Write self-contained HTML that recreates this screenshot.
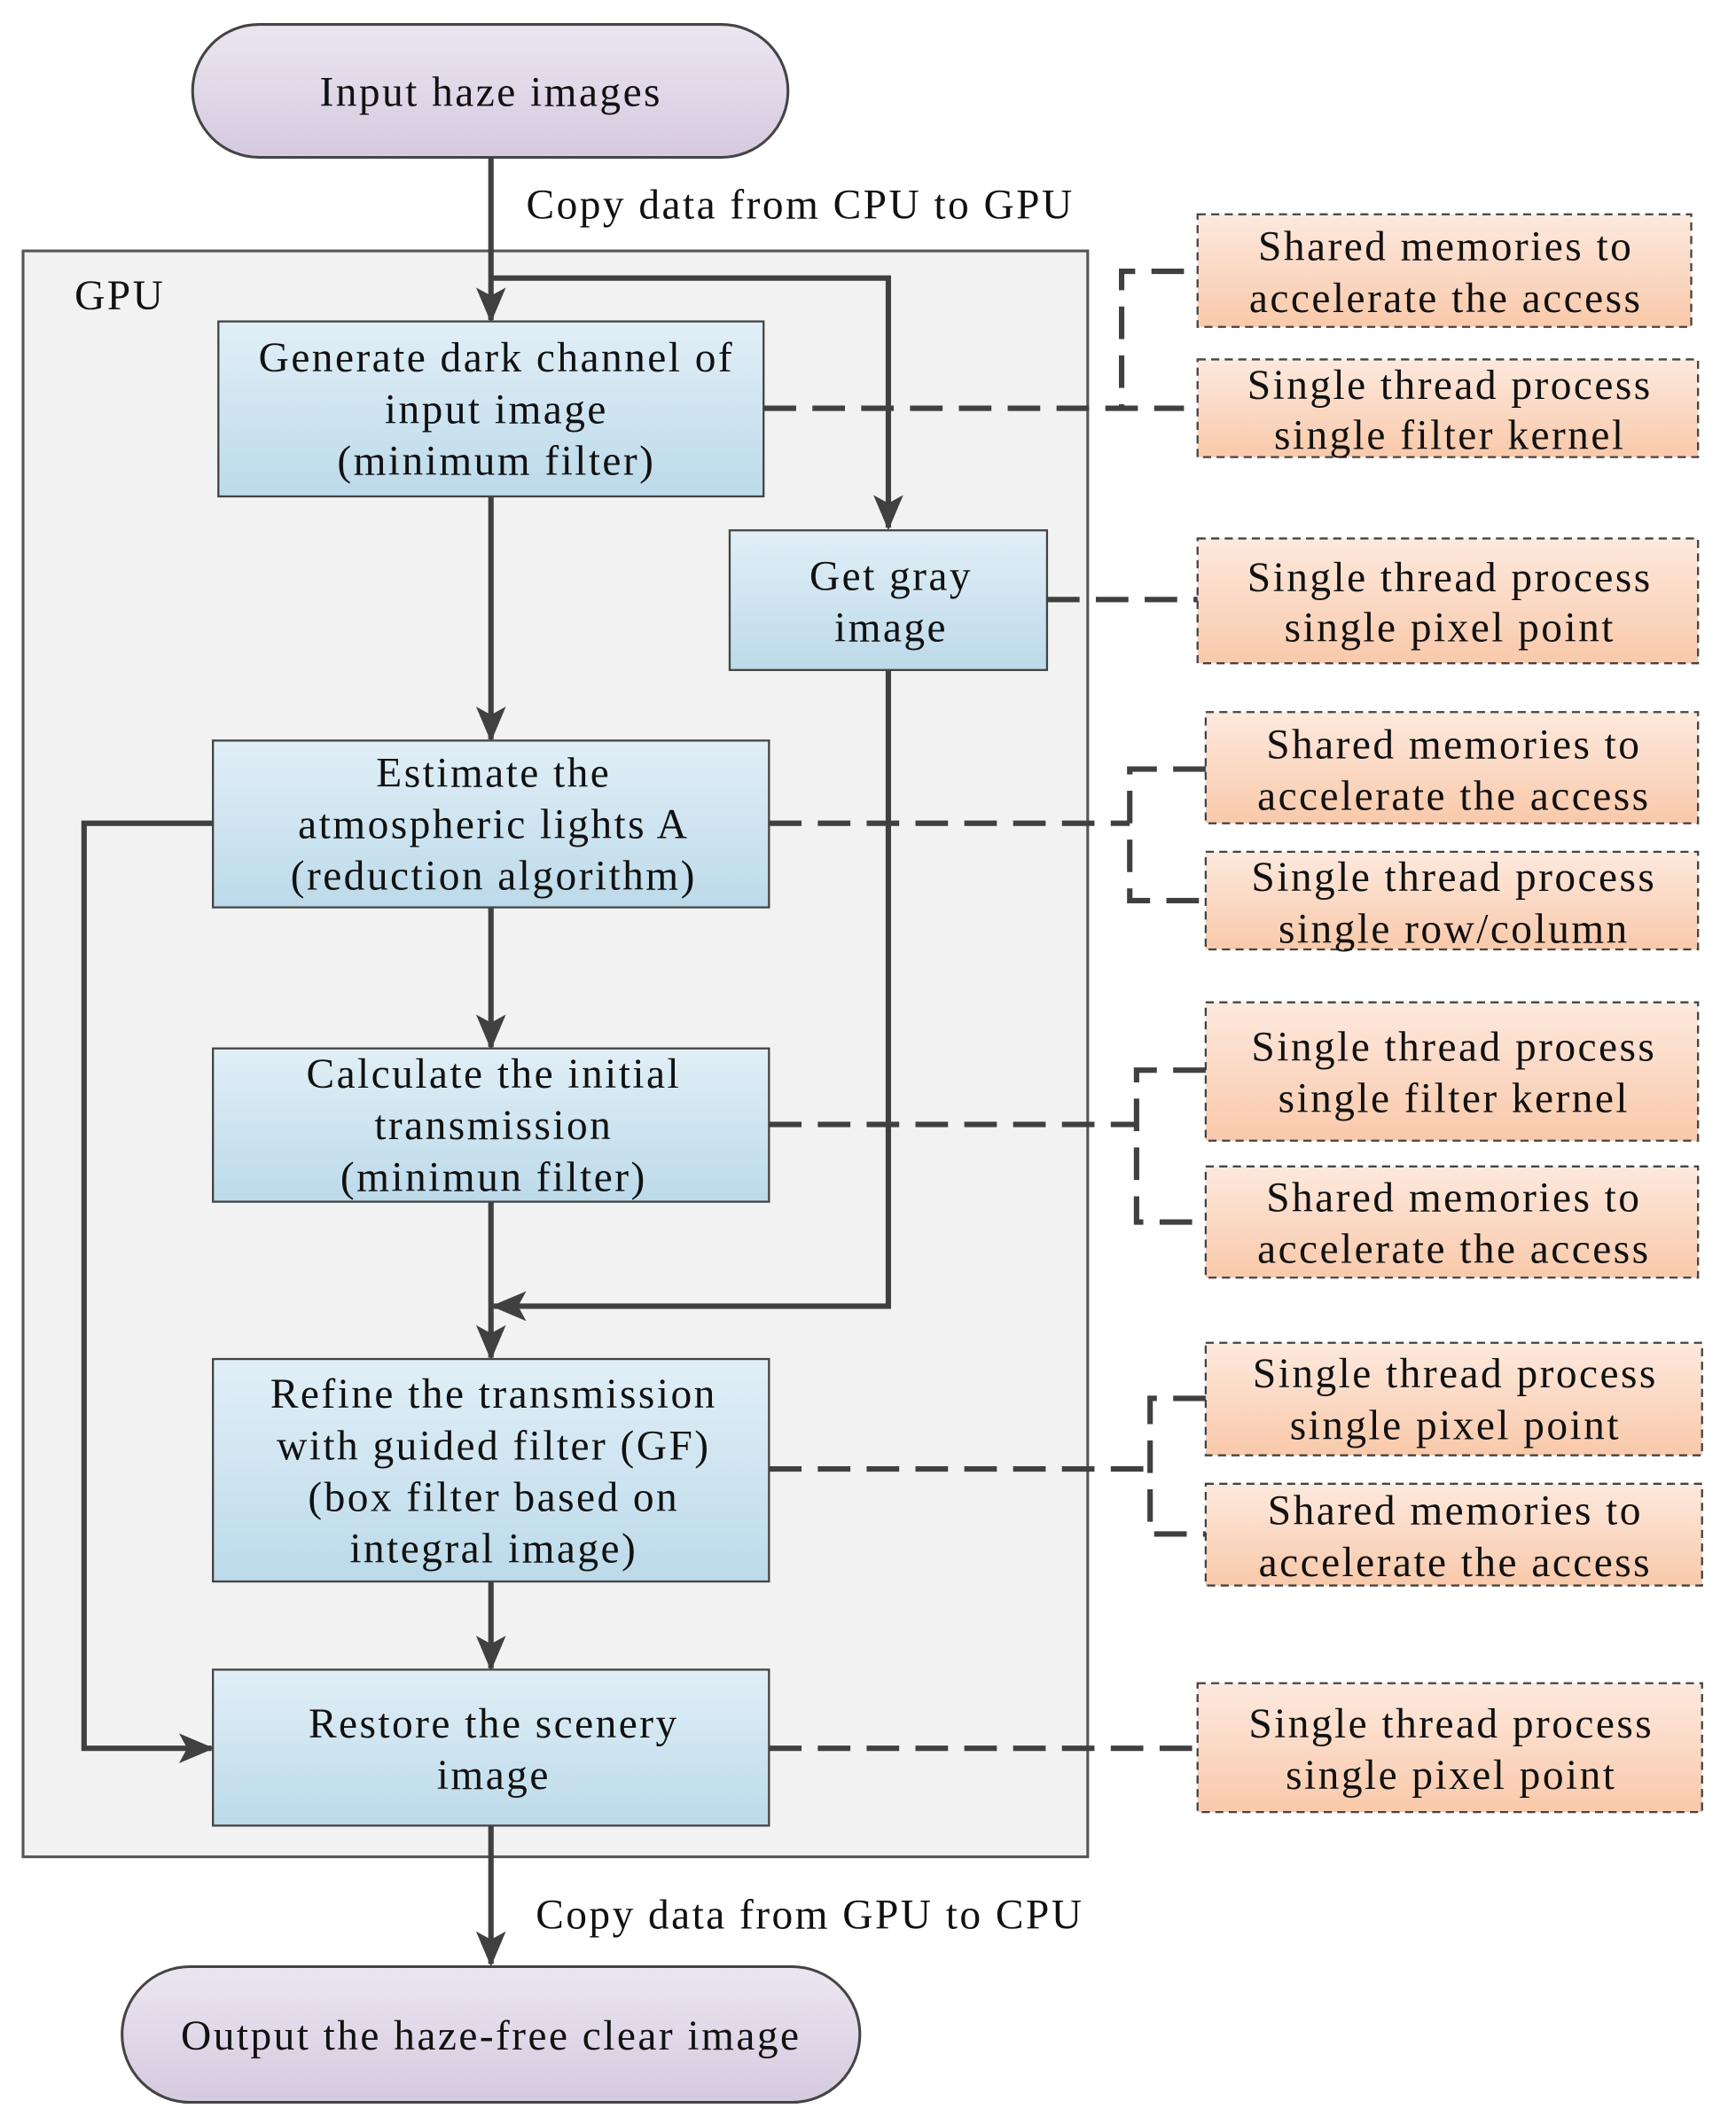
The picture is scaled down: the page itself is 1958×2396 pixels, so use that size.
<!DOCTYPE html>
<html><head><meta charset="utf-8"><style>html,body{margin:0;padding:0;background:#fff}svg{display:block}
svg text{font-family:"Liberation Serif","Times New Roman","DejaVu Serif",serif;font-size:31px;letter-spacing:1.6px;fill:#111}</style></head><body>
<svg xmlns="http://www.w3.org/2000/svg" width="1958" height="2396" viewBox="0 0 1280 1566" preserveAspectRatio="none">
<defs>
<linearGradient id="pu" x1="0" y1="0" x2="0" y2="1"><stop offset="0" stop-color="#ece6f1"/><stop offset="1" stop-color="#d5c9df"/></linearGradient>
<linearGradient id="bl" x1="0" y1="0" x2="0" y2="1"><stop offset="0" stop-color="#e1eff7"/><stop offset="1" stop-color="#bcdaea"/></linearGradient>
<linearGradient id="or" x1="0" y1="0" x2="0" y2="1"><stop offset="0" stop-color="#fde9de"/><stop offset="1" stop-color="#f9c9aa"/></linearGradient>
<marker id="ah" markerWidth="26" markerHeight="22" refX="24" refY="11" orient="auto" markerUnits="userSpaceOnUse"><path d="M0,0 L26,11 L0,22 L6,11 Z" fill="#404040"/></marker>
</defs>
<rect x="17" y="185" width="785" height="1184" fill="#f2f2f2" stroke="#555" stroke-width="2"/>
<text x="55" y="228">GPU</text>
<rect x="142" y="18" width="439" height="98" rx="49" fill="url(#pu)" stroke="#444" stroke-width="2"/>
<text x="362" y="78" text-anchor="middle">Input haze images</text>
<rect x="90" y="1450" width="544" height="100" rx="50" fill="url(#pu)" stroke="#444" stroke-width="2"/>
<text x="362" y="1511" text-anchor="middle">Output the haze-free clear image</text>
<text x="388" y="161">Copy data from CPU to GPU</text>
<text x="395" y="1422">Copy data from GPU to CPU</text>
<g stroke="#404040" stroke-width="4" fill="none">
<line x1="362" y1="116" x2="362" y2="236" marker-end="url(#ah)"/>
<polyline points="362,205 655,205 655,389" marker-end="url(#ah)"/>
<line x1="362" y1="366" x2="362" y2="545" marker-end="url(#ah)"/>
<line x1="362" y1="669" x2="362" y2="772" marker-end="url(#ah)"/>
<line x1="362" y1="886" x2="362" y2="1001" marker-end="url(#ah)"/>
<polyline points="655,494 655,963 364,963" marker-end="url(#ah)"/>
<line x1="362" y1="1166" x2="362" y2="1230" marker-end="url(#ah)"/>
<polyline points="157,607 62,607 62,1289 156,1289" marker-end="url(#ah)"/>
<line x1="362" y1="1346" x2="362" y2="1448" marker-end="url(#ah)"/>
</g>
<g stroke="#444" stroke-width="1.5">
<rect x="161" y="237" width="402" height="129" fill="url(#bl)"/>
<rect x="538" y="391" width="234" height="103" fill="url(#bl)"/>
<rect x="157" y="546" width="410" height="123" fill="url(#bl)"/>
<rect x="157" y="773" width="410" height="113" fill="url(#bl)"/>
<rect x="157" y="1002" width="410" height="164" fill="url(#bl)"/>
<rect x="157" y="1231" width="410" height="115" fill="url(#bl)"/>
</g>
<g text-anchor="middle">
<text x="366" y="274">Generate dark channel of</text><text x="366" y="312">input image</text><text x="366" y="350">(minimum filter)</text>
<text x="657" y="435">Get gray</text><text x="657" y="473">image</text>
<text x="364" y="580">Estimate the</text><text x="364" y="618">atmospheric lights A</text><text x="364" y="656">(reduction algorithm)</text>
<text x="364" y="802">Calculate the initial</text><text x="364" y="840">transmission</text><text x="364" y="878">(minimun filter)</text>
<text x="364" y="1038">Refine the transmission</text><text x="364" y="1076">with guided filter (GF)</text><text x="364" y="1114">(box filter based on</text><text x="364" y="1152">integral image)</text>
<text x="364" y="1281">Restore the scenery</text><text x="364" y="1319">image</text>
</g>
<g stroke="#444" stroke-width="1.5" stroke-dasharray="6 4">
<rect x="883" y="158" width="364" height="83" fill="url(#or)"/>
<rect x="883" y="265" width="369" height="72" fill="url(#or)"/>
<rect x="883" y="397" width="369" height="92" fill="url(#or)"/>
<rect x="889" y="525" width="363" height="82" fill="url(#or)"/>
<rect x="889" y="628" width="363" height="72" fill="url(#or)"/>
<rect x="889" y="739" width="363" height="102" fill="url(#or)"/>
<rect x="889" y="860" width="363" height="82" fill="url(#or)"/>
<rect x="889" y="990" width="366" height="83" fill="url(#or)"/>
<rect x="889" y="1094" width="366" height="75" fill="url(#or)"/>
<rect x="883" y="1241" width="372" height="95" fill="url(#or)"/>
</g>
<g text-anchor="middle">
<text x="1066" y="192">Shared memories to</text><text x="1066" y="230">accelerate the access</text>
<text x="1069" y="294">Single thread process</text><text x="1069" y="331">single filter kernel</text>
<text x="1069" y="436">Single thread process</text><text x="1069" y="473">single pixel point</text>
<text x="1072" y="559">Shared memories to</text><text x="1072" y="597">accelerate the access</text>
<text x="1072" y="657">Single thread process</text><text x="1072" y="695">single row/column</text>
<text x="1072" y="782">Single thread process</text><text x="1072" y="820">single filter kernel</text>
<text x="1072" y="893">Shared memories to</text><text x="1072" y="931">accelerate the access</text>
<text x="1073" y="1023">Single thread process</text><text x="1073" y="1061">single pixel point</text>
<text x="1073" y="1124">Shared memories to</text><text x="1073" y="1162">accelerate the access</text>
<text x="1070" y="1281">Single thread process</text><text x="1070" y="1319">single pixel point</text>
</g>
<g stroke="#404040" stroke-width="4" fill="none" stroke-dasharray="24 12">
<line x1="563" y1="301" x2="873" y2="301"/>
<polyline points="873,200 827,200 827,301"/>
<line x1="772" y1="442" x2="883" y2="442"/>
<line x1="567" y1="607" x2="833" y2="607"/>
<polyline points="889,567 833,567 833,664 889,664"/>
<line x1="567" y1="829" x2="838" y2="829"/>
<polyline points="889,789 838,789 838,901 889,901"/>
<line x1="567" y1="1083" x2="848" y2="1083"/>
<polyline points="889,1031 848,1031 848,1131 889,1131"/>
<line x1="567" y1="1289" x2="883" y2="1289"/>
</g>
</svg>
</body></html>
